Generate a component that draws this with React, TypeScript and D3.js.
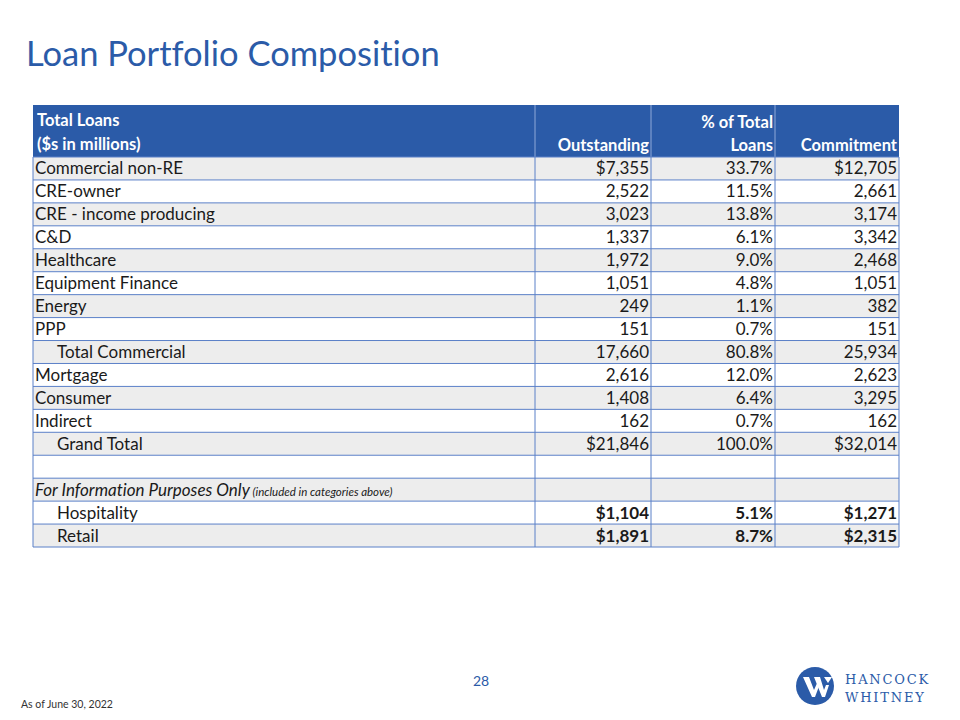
import React from "react";
import * as d3 from "d3";

const rowLabels = [
  "Commercial non-RE", "CRE-owner", "CRE - income producing", "C&D", "Healthcare",
  "Equipment Finance", "Energy", "PPP", "Total Commercial", "Mortgage", "Consumer",
  "Indirect", "Grand Total", "", "For Information Purposes Only", "Hospitality", "Retail",
];
const outstanding = [7355, 2522, 3023, 1337, 1972, 1051, 249, 151, 17660, 2616, 1408, 162, 21846, null, null, 1104, 1891];
const pctOfTotal = [33.7, 11.5, 13.8, 6.1, 9.0, 4.8, 1.1, 0.7, 80.8, 12.0, 6.4, 0.7, 100.0, null, null, 5.1, 8.7];
const commitment = [12705, 2661, 3174, 3342, 2468, 1051, 382, 151, 25934, 2623, 3295, 162, 32014, null, null, 1271, 2315];
const dollarRows = [0, 12, 15, 16];
const indentRows = [8, 12, 15, 16];
const boldRows = [15, 16];
const columnHeaders = [["Total Loans", "($s in millions)"], ["", "Outstanding"], ["% of Total", "Loans"], ["", "Commitment"]];

const FONT = "Lato, 'Open Sans', sans-serif";
const BLUE = "#2B5BA8";
const GRID = "#5B80C8";
const FS = 17;

export default function App() {
  const colEdges = [33, 535, 651, 775, 899];
  const headerTop = 105;
  const headerBottom = 157;
  const tableBottom = 547;
  const y = d3.scaleBand<number>().domain(d3.range(rowLabels.length)).range([headerBottom, tableBottom]).padding(0);
  const fmtInt = d3.format(",");
  const fmtPct = (v: number) => d3.format(".1f")(v) + "%";
  const money = (v: number | null, i: number) => v == null ? "" : (dollarRows.includes(i) ? "$" : "") + fmtInt(v);

  return (
    <svg width={960} height={720} style={{ position: "absolute", left: 0, top: 0, background: "#fff", fontVariantLigatures: "none" }} fontFamily={FONT}>
      <rect width={960} height={720} fill="#fff" />
      <text x={26} y={66} fontSize={34.5} fill={BLUE}>Loan Portfolio Composition</text>

      {/* header */}
      <rect x={colEdges[0]} y={headerTop} width={colEdges[4] - colEdges[0]} height={headerBottom - headerTop} fill={BLUE} />
      {colEdges.slice(1, 4).map((x) => (
        <line key={x} x1={x} x2={x} y1={headerTop} y2={headerBottom} stroke="#8FA9D8" strokeWidth={1} />
      ))}
      <text x={37} y={126} fontSize={16.5} fontWeight="bold" fill="#fff">{columnHeaders[0][0]}</text>
      <text x={37} y={150} fontSize={16.5} fontWeight="bold" fill="#fff">{columnHeaders[0][1]}</text>
      {[1, 2, 3].map((c) => (
        <g key={c}>
          <text x={colEdges[c + 1] - 2} y={128} fontSize={16.5} fontWeight="bold" fill="#fff" textAnchor="end">{columnHeaders[c][0]}</text>
          <text x={colEdges[c + 1] - 2} y={151} fontSize={16.5} fontWeight="bold" fill="#fff" textAnchor="end">{columnHeaders[c][1]}</text>
        </g>
      ))}

      {/* rows */}
      {rowLabels.map((lab, i) => {
        const y0 = y(i)!;
        const h = y.bandwidth();
        const base = y0 + h - 5.5;
        const bold = boldRows.includes(i) ? "bold" : "normal";
        return (
          <g key={i}>
            <rect x={colEdges[0]} y={y0} width={colEdges[4] - colEdges[0]} height={h} fill={i % 2 === 0 ? "#EDEDED" : "#FFFFFF"} />
            {i === 14 ? (
              <text x={35} y={base} fontSize={FS} fontStyle="italic" fill="#1a1a1a">
                {lab}
                <tspan fontSize={11.5}> (included in categories above)</tspan>
              </text>
            ) : (
              <text x={indentRows.includes(i) ? 57 : 35} y={base} fontSize={FS} fill="#1a1a1a">{lab}</text>
            )}
            <text x={colEdges[2] - 2} y={base} fontSize={FS} fontWeight={bold} fill="#1a1a1a" textAnchor="end">{money(outstanding[i], i)}</text>
            <text x={colEdges[3] - 2} y={base} fontSize={FS} fontWeight={bold} fill="#1a1a1a" textAnchor="end">{pctOfTotal[i] == null ? "" : fmtPct(pctOfTotal[i] as number)}</text>
            <text x={colEdges[4] - 2} y={base} fontSize={FS} fontWeight={bold} fill="#1a1a1a" textAnchor="end">{money(commitment[i], i)}</text>
          </g>
        );
      })}
      {/* grid */}
      {d3.range(rowLabels.length + 1).map((i) => {
        const yy = i === rowLabels.length ? tableBottom : y(i)!;
        return <line key={"h" + i} x1={colEdges[0]} x2={colEdges[4]} y1={yy} y2={yy} stroke={GRID} strokeWidth={1} />;
      })}
      {colEdges.map((x) => (
        <line key={"v" + x} x1={x} x2={x} y1={headerBottom} y2={tableBottom} stroke={GRID} strokeWidth={1} />
      ))}

      {/* footer */}
      <text x={481} y={686} fontSize={14} fill={BLUE} textAnchor="middle">28</text>
      <text x={21} y={708} fontSize={10.5} fill="#333">As of June 30, 2022</text>

      {/* logo */}
      <g>
        <circle cx={815} cy={686} r={19} fill={BLUE} />
        <path d="M803,677 L809,677 L814,690 L818,681 L821,681 L815,697 L812,697 Z" fill="#fff" />
        <path d="M814,677 L820,677 L824,690 L826,685 L829,685 L825,697 L822,697 Z" fill="#fff" />
        <path d="M824,677 L832,677 L828,683 Z" fill="#fff" />
        <text x={845} y={684} fontSize={13} fill={BLUE} fontFamily="'DejaVu Serif', 'Liberation Serif', serif" letterSpacing={1.8}>HANCOCK</text>
        <text x={845} y={702} fontSize={13} fill={BLUE} fontFamily="'DejaVu Serif', 'Liberation Serif', serif" letterSpacing={1.8}>WHITNEY</text>
      </g>
    </svg>
  );
}
